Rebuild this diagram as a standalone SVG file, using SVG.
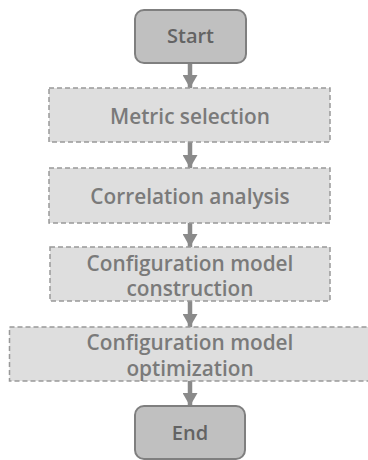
<svg xmlns="http://www.w3.org/2000/svg" width="368" height="460" viewBox="0 0 368 460">
<style>
.term{fill:#c0c0c0;stroke:#7f7f7f;stroke-width:2}
.step{fill:#dedede;stroke:#999;stroke-width:1.5;stroke-dasharray:5 3}
text{font-family:"Open Sans","Noto Sans","Liberation Sans",sans-serif;font-weight:600;font-size:20.8px;fill:#7a7a7a;text-anchor:middle}
.tt{fill:#636363;font-size:20px}
.conn{stroke:#8a8a8a;stroke-width:4.5;fill:none}
</style>
<defs>
<marker id="ah" viewBox="0 0 13 15" refX="13" refY="7.5" markerWidth="13" markerHeight="15" markerUnits="userSpaceOnUse" orient="auto">
<path d="M0,0 L13,7.5 L0,15 z" fill="#8a8a8a"/>
</marker>
</defs>
<rect width="368" height="460" fill="#fff"/>
<g id="connectors">
<line class="conn" x1="190" y1="63" x2="190" y2="88" marker-end="url(#ah)"/>
<line class="conn" x1="190" y1="142" x2="190" y2="168" marker-end="url(#ah)"/>
<line class="conn" x1="190" y1="223" x2="190" y2="247" marker-end="url(#ah)"/>
<line class="conn" x1="190" y1="301" x2="190" y2="327" marker-end="url(#ah)"/>
<line class="conn" x1="190" y1="381" x2="190" y2="406" marker-end="url(#ah)"/>
</g>
<g id="start">
<rect class="term" x="135" y="10" width="111" height="53" rx="9"/>
<text class="tt" x="190.5" y="43">Start</text>
</g>
<g id="metric">
<rect class="step" x="49" y="88" width="281" height="54"/>
<text x="190" y="123.5">Metric selection</text>
</g>
<g id="correlation">
<rect class="step" x="49" y="168" width="281" height="55"/>
<text x="190" y="203.5">Correlation analysis</text>
</g>
<g id="construction">
<rect class="step" x="50" y="247" width="280" height="54"/>
<text x="190" y="270.5">Configuration model</text>
<text x="190" y="295.5">construction</text>
</g>
<g id="optimization">
<rect class="step" x="9.5" y="327" width="362" height="54"/>
<text x="190" y="349.5">Configuration model</text>
<text x="190" y="375.5">optimization</text>
</g>
<g id="end">
<rect class="term" x="135" y="406" width="110" height="53" rx="9"/>
<text class="tt" x="190" y="440">End</text>
</g>
</svg>
